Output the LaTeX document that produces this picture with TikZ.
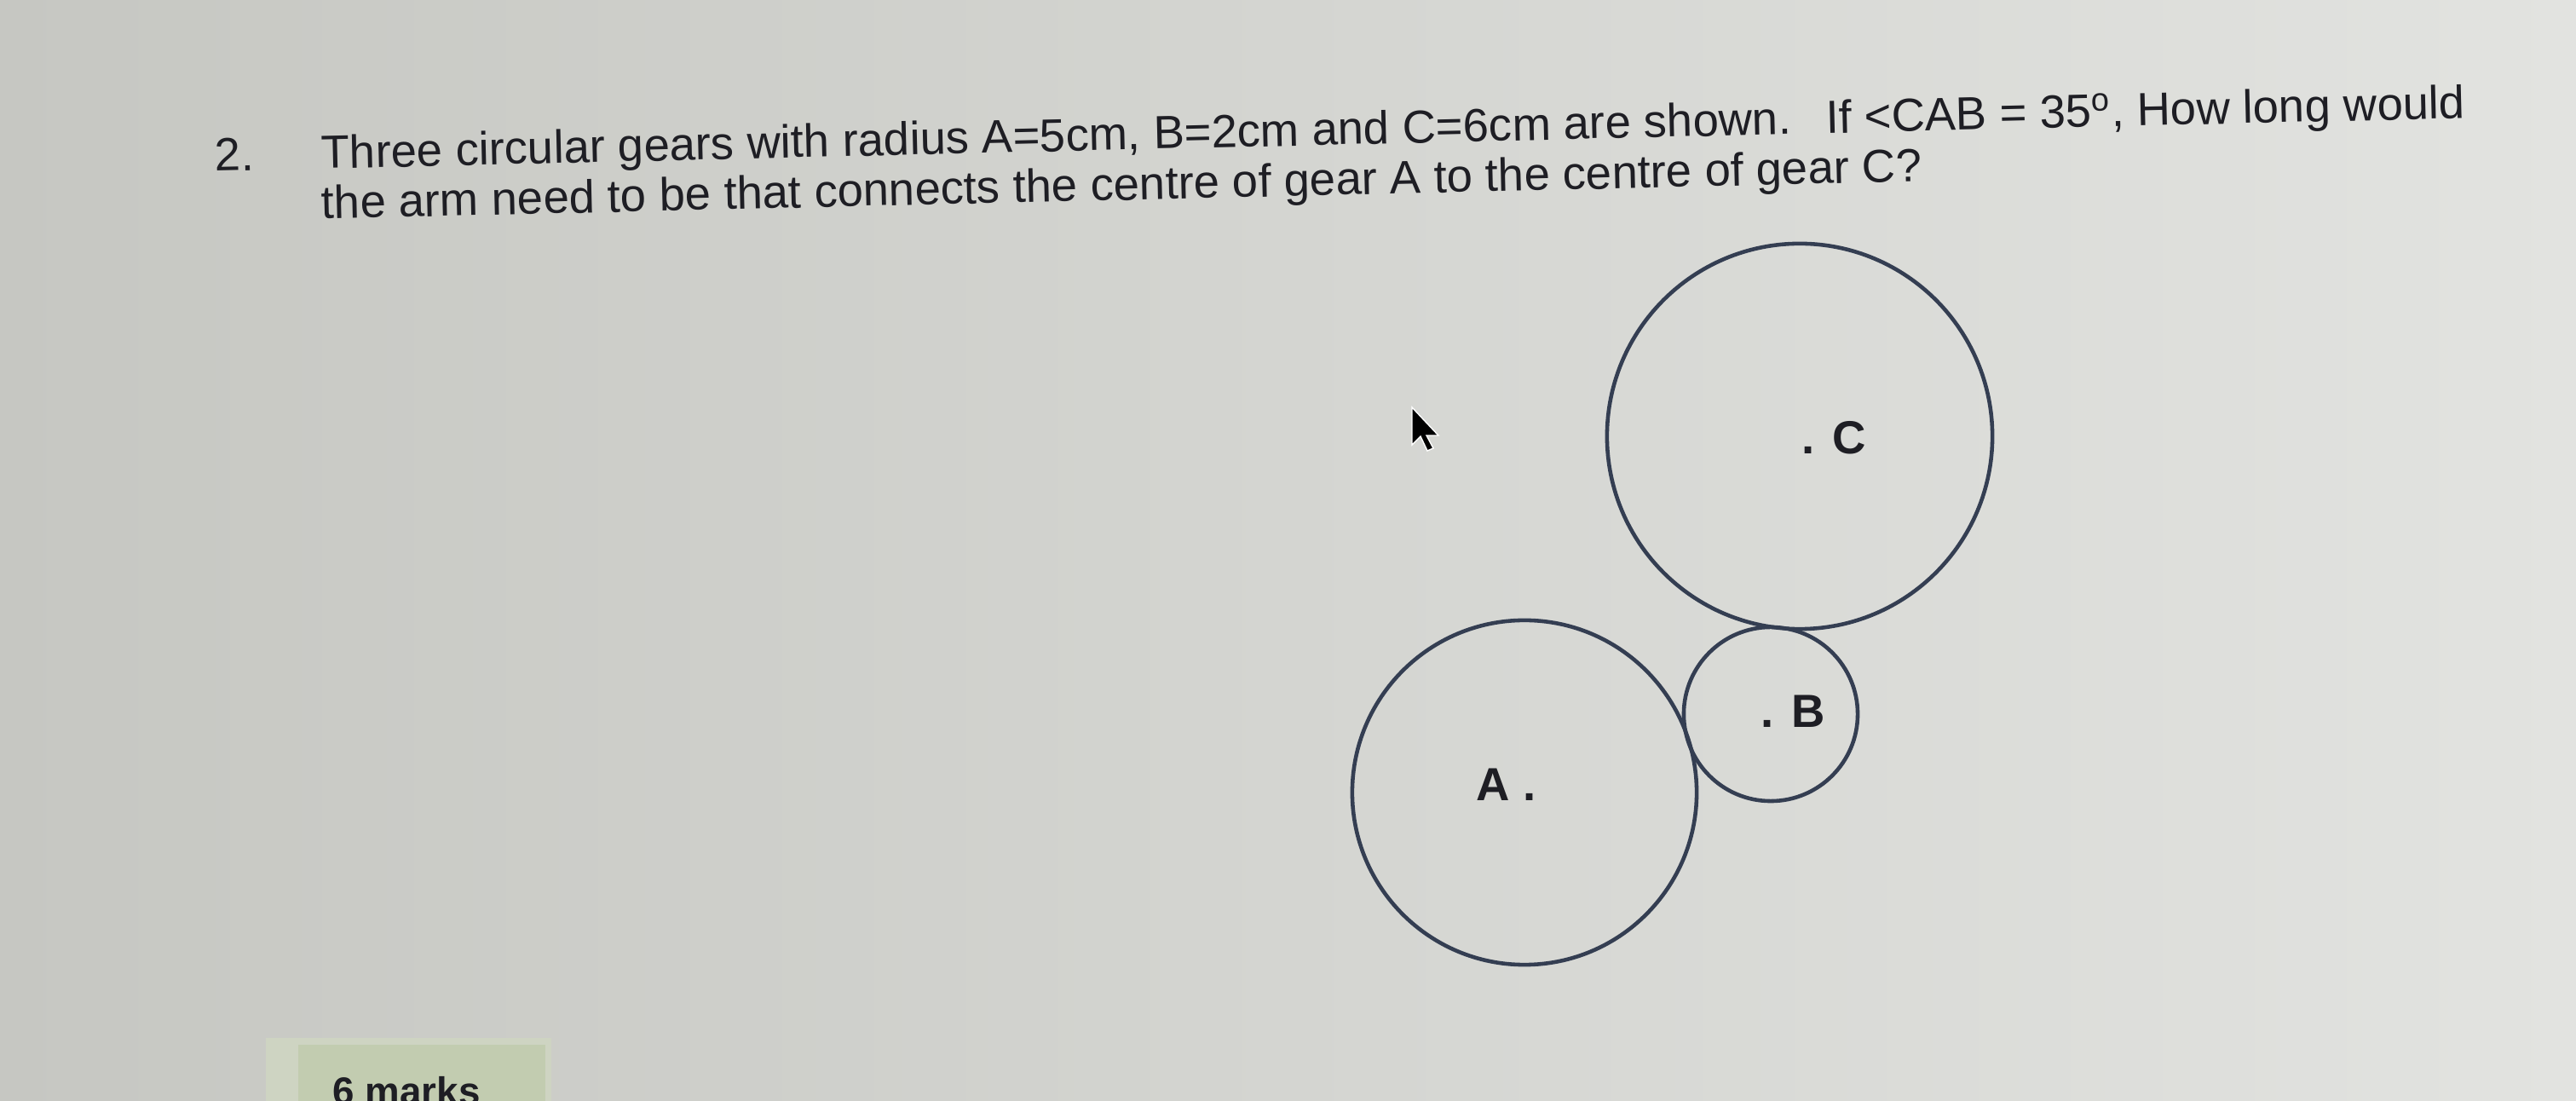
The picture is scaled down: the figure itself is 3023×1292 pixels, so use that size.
\documentclass[tikz,border=0pt]{standalone}
\usepackage{fontspec}
\setmainfont{Liberation Sans}
\definecolor{gearline}{RGB}{52,62,82}
\definecolor{inkgray}{RGB}{30,30,36}
\definecolor{screenleft}{RGB}{198,199,194}
\definecolor{screenright}{RGB}{226,227,224}
\definecolor{marksgreen}{RGB}{194,204,176}
\definecolor{marksfade}{RGB}{206,212,194}

\begin{document}
\begin{tikzpicture}[x=0.01cm,y=-0.01cm]
\tikzstyle{gear}=[circle, draw=gearline, line width=1.3pt, inner sep=0pt]
\tikzstyle{question}=[anchor=base west, inner sep=0pt, text=inkgray, rotate=1.35, font=\fontsize{15.5}{18}\selectfont]
\tikzstyle{tag}=[anchor=base west, inner sep=0pt, text=inkgray, font=\fontsize{15.5}{18}\selectfont\bfseries]
\useasboundingbox (0,0) rectangle (3023,1292);
\clip (0,0) rectangle (3023,1292);
\shade[left color=screenleft, right color=screenright] (0,0) rectangle (3023,1292);
% question text
\node[question] (num) at (252,201) {2.};
\node[question] (line1) at (377,198) {Three circular gears with radius A=5cm, B=2cm and C=6cm are shown.\hspace{0.75em}If <CAB = 35\textsuperscript{o}, How long would};
\node[question] (line2) at (377,257) {the arm need to be that connects the centre of gear A to the centre of gear C?};
% gears
\node[gear, minimum size=4.04cm] (gearA) at (1789,930) {};
\node[gear, minimum size=2.04cm] (gearB) at (2078,838) {};
\node[gear, minimum size=4.52cm] (gearC) at (2112,512) {};
\node[tag] (labelA) at (1732,940) {A .};
\node[tag] (labelB) at (2066,854) {. B};
\node[tag] (labelC) at (2114,533) {. C};
% pointer
\fill[black, draw=white, line width=0.4pt] (1657,478) -- (1657,522) -- (1667,512) -- (1675,529) -- (1682,526) -- (1674,511) -- (1688,511) -- cycle;
% marks box
\fill[marksfade] (312,1218) rectangle (647,1310);
\fill[marksgreen] (350,1226) rectangle (640,1310);
\node[tag, font=\fontsize{13}{15}\selectfont\bfseries] (marks) at (390,1297) {6 marks};
\end{tikzpicture}
\end{document}
